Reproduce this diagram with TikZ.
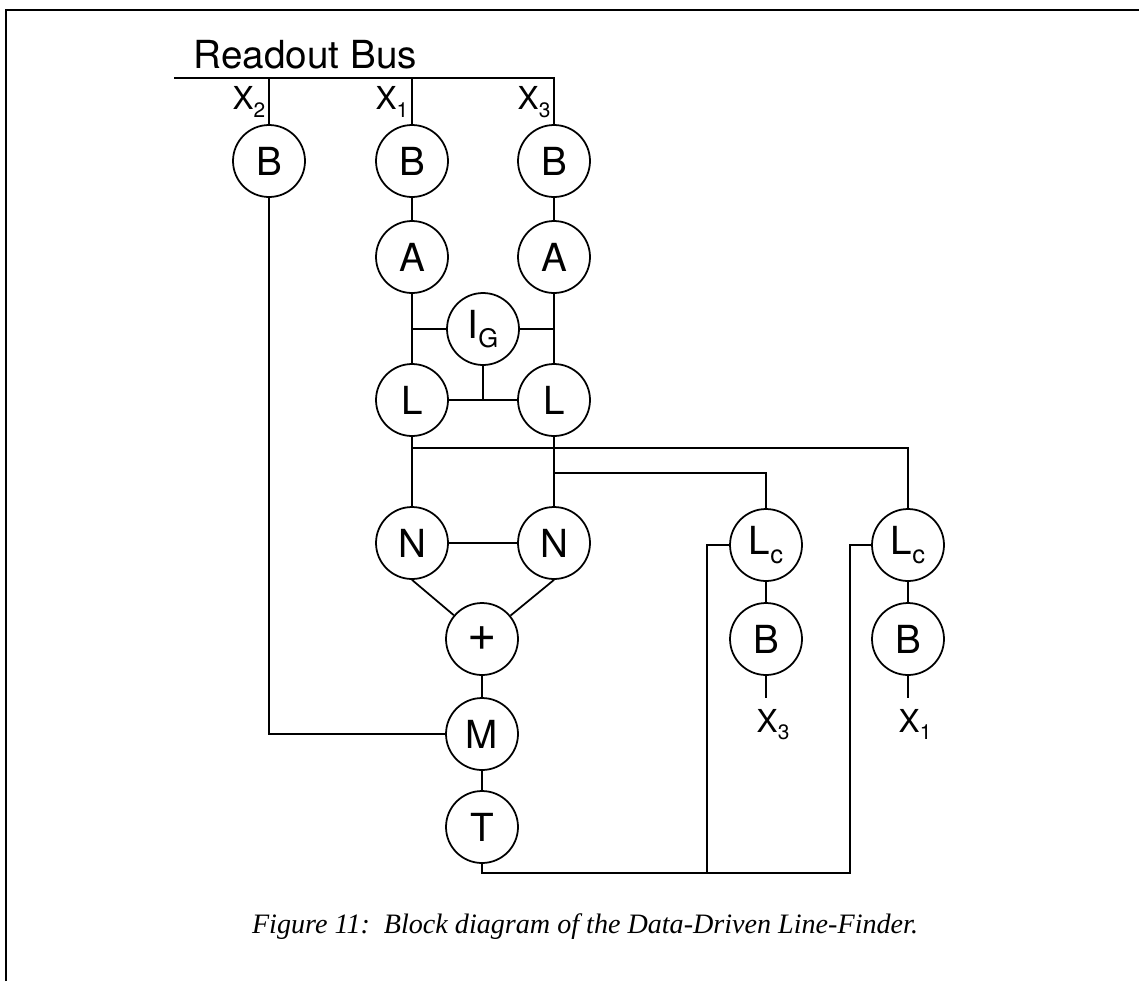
\documentclass[tikz,border=0pt]{standalone}
\usepackage{fontspec}
\setmainfont{Liberation Serif}
\setsansfont{TeX Gyre Heros}
\newcommand{\lsub}[1]{\raisebox{-0.45ex}{\scalebox{0.66}{#1}}}
\begin{document}
\begin{tikzpicture}[x=0.02cm,y=-0.02cm,line width=1pt,
			blk/.style={circle,draw,minimum size=1.44cm,inner sep=0pt,
				font=\sffamily\fontsize{22}{24}\selectfont},
			xlab/.style={font=\sffamily\fontsize{18}{20}\selectfont,inner sep=1pt}]
			\useasboundingbox (0,0) rectangle (1139,981);
			% Khung
			\draw[line width=1.3pt] (6,981) -- (6,10) -- (1139,10);
			% Các khối
			\node[blk] (b2) at (269,161) {B};
			\node[blk] (b1) at (412,161) {B};
			\node[blk] (b3) at (554,161) {B};
			\node[blk] (a1) at (412,257) {A};
			\node[blk] (a3) at (554,257) {A};
			\node[blk] (ig) at (483,329) {I\lsub{G}};
			\node[blk] (l1) at (412,400) {L};
			\node[blk] (l3) at (554,400) {L};
			\node[blk] (n1) at (412,543) {N};
			\node[blk] (n3) at (554,543) {N};
			\node[blk] (plus) at (482,639) {\scalebox{1.3}{+}};
			\node[blk] (m) at (482,734) {M};
			\node[blk] (t) at (482,827) {T};
			\node[blk] (lc1) at (766,545) {L\lsub{c}};
			\node[blk] (lc2) at (908,545) {L\lsub{c}};
			\node[blk] (bb1) at (766,639) {B};
			\node[blk] (bb2) at (908,639) {B};
			% Bus
			\coordinate (busL) at (174,78);
			\node[anchor=base west,inner sep=0pt,font=\sffamily\fontsize{22}{24}\selectfont] (bus) at (193,68) {Readout Bus};
			\draw (busL) -| (b3);
			\draw (b2) -- (b2 |- busL);
			\draw (b1) -- (b1 |- busL);
			\node[xlab] (x2) at (249,102) {X\lsub{2}};
			\node[xlab] (x1) at (392,102) {X\lsub{1}};
			\node[xlab] (x3) at (534,102) {X\lsub{3}};
			% Nối các khối
			\draw (b1) -- (a1) -- (l1) -- (n1);
			\draw (b3) -- (a3) -- (l3) -- (n3);
			\draw (ig) -- (ig -| a1);
			\draw (ig) -- (ig -| a3);
			\draw (l1) -- (l3);
			\draw (ig) -- (ig |- l1);
			\coordinate (j1) at (412,448);
			\coordinate (j3) at (554,473);
			\draw (j1) -| (lc2);
			\draw (j3) -| (lc1);
			\draw (n1) -- (n3);
			\draw (n1.south) -- (plus);
			\draw (n3.south) -- (plus);
			\draw (plus) -- (m) -- (t);
			\draw (b2) |- (m);
			\coordinate (k1) at (707,873);
			\coordinate (k2) at (850,873);
			\draw (t) |- (k2) |- (lc2);
			\draw (lc1) -| (k1);
			\draw (lc1) -- (bb1);
			\draw (lc2) -- (bb2);
			\coordinate (e1) at (766,698);
			\coordinate (e2) at (908,698);
			\draw (bb1) -- (e1);
			\draw (bb2) -- (e2);
			\node[xlab,anchor=north] (x3b) at ([xshift=4pt,yshift=-5pt]e1) {X\lsub{3}};
			\node[xlab,anchor=north] (x1b) at ([xshift=4pt,yshift=-5pt]e2) {X\lsub{1}};
			% Chú thích
			\node[font=\itshape\fontsize{16}{18}\selectfont] (cap) at (585,927) {Figure 11:\ \ Block diagram of the Data-Driven Line-Finder.};
		\end{tikzpicture}
\end{document}
